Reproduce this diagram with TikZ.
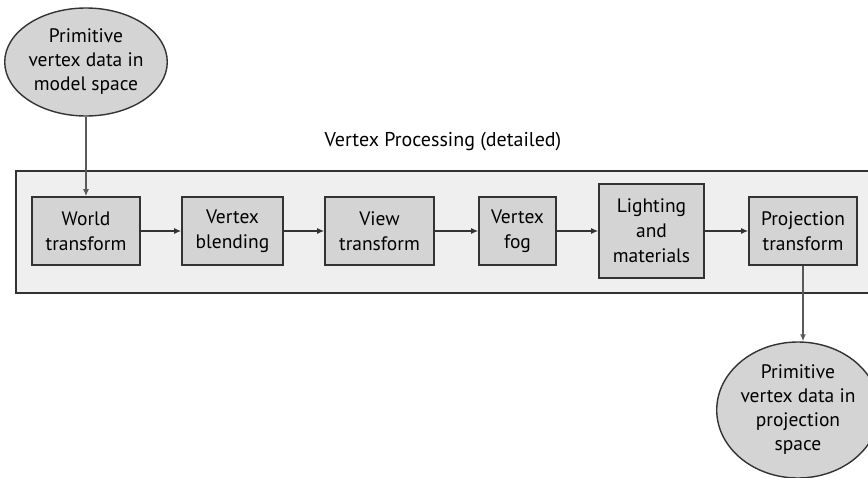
\documentclass[tikz,border=0pt]{standalone}
\usepackage{fontspec}
\setmainfont{PT Sans}
\usetikzlibrary{shapes.geometric,arrows.meta}
\definecolor{panel}{HTML}{EFEFEF}
\definecolor{stage}{HTML}{D4D4D4}
\definecolor{edge}{HTML}{333333}
\tikzset{
  stagebox/.style={draw=edge, line width=1.6pt, fill=stage, inner sep=0pt,
    align=center, font=\fontsize{19.5}{25}\selectfont},
  blob/.style={draw=edge, line width=1.4pt, fill=stage, ellipse, inner sep=0pt,
    align=center, font=\fontsize{19.5}{24}\selectfont},
  flow/.style={draw=edge, line width=1.3pt, -{Latex[length=7pt,width=6pt]}},
  drop/.style={draw=gray!70!black, line width=1.6pt, -{Latex[length=7pt,width=6pt]}}
}
\begin{document}
\begin{tikzpicture}[x=1pt,y=-1pt]
  \useasboundingbox (0,0) rectangle (868,477);
  \begin{scope}
    \clip (0,0) rectangle (868,477);
    % outer processing panel (runs past the right margin)
    \draw[draw=edge, line width=1.6pt, fill=panel] (16,171) rectangle (880,293);
    % source and result data
    \node[blob, minimum width=160pt, minimum height=108pt] (src) at (86,62)
      {Primitive\\vertex data in\\model space};
    \node[blob, minimum width=152pt, minimum height=136pt] (dst) at (798,410)
      {Primitive\\vertex data in\\projection\\space};
  \end{scope}
  \node[font=\fontsize{20}{24}\selectfont] (title) at (443,142) {Vertex Processing (detailed)};
  % pipeline stages
  \node[stagebox, minimum width=108pt, minimum height=68pt] (world) at (86,231) {World\\transform};
  \node[stagebox, minimum width=101pt, minimum height=68pt] (blend) at (232.5,231) {Vertex\\blending};
  \node[stagebox, minimum width=109pt, minimum height=68pt] (view) at (379.5,231) {View\\transform};
  \node[stagebox, minimum width=77pt, minimum height=68pt] (fog) at (517.5,231) {Vertex\\fog};
  \node[stagebox, minimum width=105pt, minimum height=94pt] (light) at (651.5,231) {Lighting\\and\\materials};
  \node[stagebox, minimum width=108pt, minimum height=68pt] (proj) at (803,231) {Projection\\transform};
  % connectors
  \draw[drop] (src.south) -- (world.north);
  \draw[flow] (world) -- (blend);
  \draw[flow] (blend) -- (view);
  \draw[flow] (view) -- (fog);
  \draw[flow] (fog) -- (light);
  \draw[flow] (light) -- (proj);
  \draw[drop] (proj.south) -- (proj.south |- dst.north);
\end{tikzpicture}
\end{document}
